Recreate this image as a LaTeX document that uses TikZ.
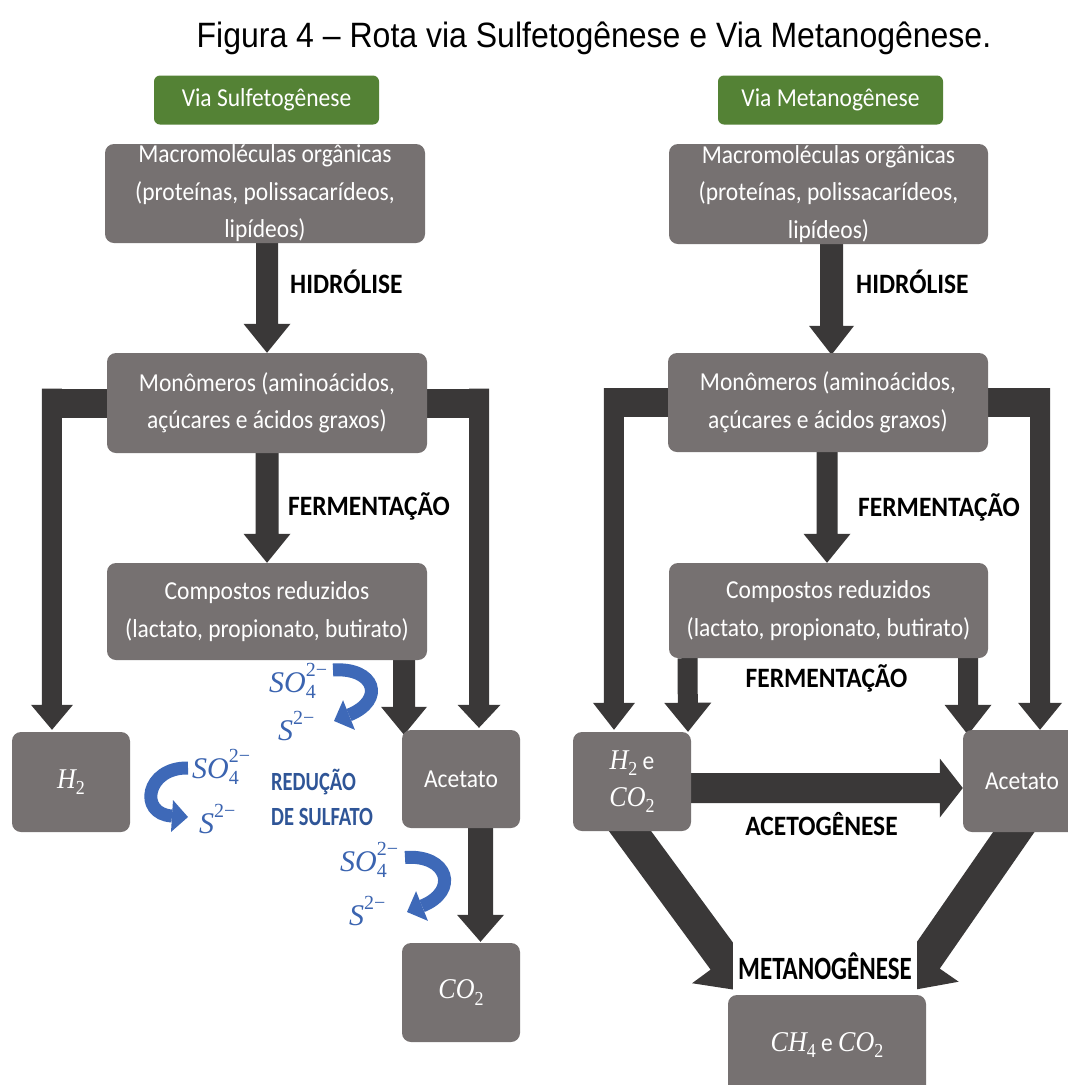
\documentclass[tikz,border=0pt]{standalone}
\usepackage{graphicx}
\usepackage{fontspec}
\setmainfont{Carlito}
\newfontfamily\titlefont{Liberation Sans}
\newfontfamily\chemfont{Liberation Serif}
\usetikzlibrary{calc}

\definecolor{boxgray}{HTML}{767171}
\definecolor{arrowdark}{HTML}{3A3838}
\definecolor{headgreen}{HTML}{548235}
\definecolor{sulfblue}{HTML}{2F5597}
\definecolor{ionblue}{HTML}{3B64B0}
\definecolor{curveblue}{HTML}{3E69B8}

\pgfdeclarelayer{background}
\pgfsetlayers{background,main}

% slightly tall lettering
\newcommand\tallA[1]{\scalebox{1}[1.1]{#1}}
\newcommand\tallB[2]{\scalebox{1}[#1]{#2}}

% chemical formulas: italic letters, upright indices
\newcommand\chemsub[1]{\raisebox{-5.5pt}{\fontsize{18}{18}\selectfont #1}}
\newcommand\mol[2]{{\chemfont\fontsize{26}{37.5}\selectfont\itshape #1}{\chemfont\chemsub{#2}}}
\newcommand\ionsubsup[2]{\rlap{\raisebox{-6.5pt}{\fontsize{20}{20}\selectfont #1}}\raisebox{16pt}{\fontsize{20}{20}\selectfont #2}}
\newcommand\ionsup[1]{\raisebox{16pt}{\fontsize{20}{20}\selectfont #1}}
\newcommand\ionSO{{\chemfont\itshape SO}{\chemfont\ionsubsup{4}{2−}}}
\newcommand\ionS{{\chemfont\itshape S}{\chemfont\ionsup{2−}}}

% block arrow: #1 tail, #2 tip, #3 half shaft width, #4 half head width, #5 head length
\newcommand\blkarrow[5]{%
  \coordinate (ba-base) at ($(#2)!#5!(#1)$);
  \fill[arrowdark] ($(#1)!#3!90:(#2)$) -- ($(ba-base)!#3!90:(#2)$)
    -- ($(ba-base)!#4!90:(#2)$) -- (#2) -- ($(ba-base)!#4!-90:(#2)$)
    -- ($(ba-base)!#3!-90:(#2)$) -- ($(#1)!#3!-90:(#2)$) -- cycle;}

% curved sulfate arrow: #1 start, #2 #3 controls, #4 head base, #5 tip
\newcommand\ionarrow[5]{%
  \draw[curveblue, line width=13pt] (#1) .. controls #2 and #3 .. (#4);
  \fill[curveblue] ($(#4)!16pt!90:(#5)$) -- (#5) -- ($(#4)!16pt!-90:(#5)$) -- cycle;}

\begin{document}
\begin{tikzpicture}[x=1pt,y=-1pt,
  box/.style={fill=boxgray, rounded corners=9pt, text=white, align=center,
    inner sep=0pt, font=\fontsize{23.5}{37.5}\selectfont},
  tag/.style={fill=headgreen, rounded corners=6pt, text=white, inner sep=0pt,
    minimum width=225pt, minimum height=49pt, font=\fontsize{23.5}{28}\selectfont},
  stage/.style={font=\bfseries\fontsize{25.5}{30}\selectfont, inner sep=0pt},
  ion/.style={text=ionblue, inner sep=0pt, anchor=base west,
    font=\fontsize{30}{32}\selectfont},
  redlabel/.style={text=sulfblue, inner sep=0pt, anchor=base west,
    font=\bfseries\fontsize{20.5}{24}\selectfont}]

\useasboundingbox (0,0) rectangle (1068,1085);

% title
\node[font=\titlefont\fontsize{32}{38}\selectfont, inner sep=0pt, anchor=base]
  (title) at (594,47) {\tallA{Figura 4 – Rota via Sulfetogênese e Via Metanogênese.}};

% ---------------- sulfidogenic route ----------------
\node[tag] (tagL) at (266.5,100) {\tallA{Via Sulfetogênese}};
\node[box, minimum width=320pt, minimum height=99pt] (macL) at (265,193.5)
  {\tallA{Macromoléculas orgânicas}\\\tallA{(proteínas, polissacarídeos,}\\\tallA{lipídeos)}};
\node[box, minimum width=320pt, minimum height=100pt] (monL) at (267,403)
  {\tallA{Monômeros (aminoácidos,}\\\tallA{açúcares e ácidos graxos)}};
\node[box, minimum width=320pt, minimum height=97pt] (redL) at (267,611.5)
  {\tallA{Compostos reduzidos}\\\tallA{(lactato, propionato, butirato)}};
\node[box, minimum width=118pt, minimum height=100pt] (h2L) at (71,782) {\tallA{\mol{H}{2}}};
\node[box, minimum width=118pt, minimum height=98pt] (aceL) at (461,779) {\tallA{Acetato}};
\node[box, minimum width=118pt, minimum height=99pt] (co2L) at (461,992.5) {\tallA{\mol{CO}{2}}};

\node[stage, anchor=base west] (hidL) at (290,293) {\tallA{HIDRÓLISE}};
\node[stage, anchor=base west] (ferL) at (288,515) {\tallA{FERMENTAÇÃO}};
\node[redlabel] (redu) at (271,790) {\tallB{1.28}{REDUÇÃO}};
\node[redlabel] (sulf) at (271,825) {\tallB{1.28}{DE SULFATO}};

\node[ion] (so4a) at (269,692) {\ionSO};
\node[ion] (s2a) at (278,740) {\ionS};
\node[ion] (so4b) at (192,778) {\ionSO};
\node[ion] (s2b) at (199,833) {\ionS};
\node[ion] (so4c) at (340,871) {\ionSO};
\node[ion] (s2c) at (349,925) {\ionS};

% ---------------- methanogenic route ----------------
\node[tag] (tagR) at (830.5,100) {\tallA{Via Metanogênese}};
\node[box, minimum width=319pt, minimum height=100pt] (macR) at (828.5,194)
  {\tallA{Macromoléculas orgânicas}\\\tallA{(proteínas, polissacarídeos,}\\\tallA{lipídeos)}};
\node[box, minimum width=320pt, minimum height=99pt] (monR) at (828,402.5)
  {\tallA{Monômeros (aminoácidos,}\\\tallA{açúcares e ácidos graxos)}};
\node[box, minimum width=319pt, minimum height=95pt] (redR) at (828.5,610.5)
  {\tallA{Compostos reduzidos}\\\tallA{(lactato, propionato, butirato)}};
\node[box, minimum width=118pt, minimum height=99pt] (hcR) at (632,781.5)
  {\tallA{\mol{H}{2} e}\\\tallA{\mol{CO}{2}}};
\node[box, minimum width=118pt, minimum height=102pt] (aceR) at (1022,781) {\tallA{Acetato}};
\node[box, minimum width=198pt, minimum height=100pt] (chR) at (827,1045) {\tallA{\mol{CH}{4} e \mol{CO}{2}}};

\node[stage, anchor=base west] (hidR) at (856,293) {\tallA{HIDRÓLISE}};
\node[stage, anchor=base west] (ferR) at (858,516) {\tallA{FERMENTAÇÃO}};
\node[stage, anchor=base] (ferM) at (826.5,687) {\tallA{FERMENTAÇÃO}};
\node[stage, anchor=base] (acet) at (821.5,835) {\tallA{ACETOGÊNESE}};

% ---------------- connectors ----------------
\begin{pgfonlayer}{background}
  \fill[white] (0,0) rectangle (1068,1085);

  % left route
  \coordinate (hyL-a) at ($(macL.south)+(2,0)$);
  \blkarrow{hyL-a}{monL.north}{11pt}{23.5pt}{29pt}
  \blkarrow{monL.south}{redL.north}{11.5pt}{23.5pt}{29pt}
  \coordinate (elL-out) at ($(monL.west)+(-65,0)$);
  \coordinate (elL-top) at ($(monL.west)+(-55,-14.5)$);
  \coordinate (elL-tip) at ($(h2L.north)+(-19,-2)$);
  \draw[arrowdark, line width=29pt] (monL.center) -- (elL-out);
  \blkarrow{elL-top}{elL-tip}{10pt}{21pt}{25pt}
  \coordinate (erL-out) at ($(monL.east)+(62,0)$);
  \coordinate (erL-top) at ($(monL.east)+(52,-14.5)$);
  \coordinate (erL-tip) at ($(aceL.north)+(18,-2)$);
  \draw[arrowdark, line width=29pt] (monL.center) -- (erL-out);
  \blkarrow{erL-top}{erL-tip}{10pt}{21.5pt}{23pt}
  \coordinate (raL-a) at ($(redL.south)+(137,0)$);
  \coordinate (raL-b) at ($(aceL.north)+(-57,5)$);
  \blkarrow{raL-a}{raL-b}{11pt}{23pt}{28pt}
  \coordinate (acL-a) at ($(aceL.south)+(19.5,0)$);
  \coordinate (acL-b) at ($(co2L.north)+(19.5,-1)$);
  \blkarrow{acL-a}{acL-b}{12.5pt}{23.5pt}{27pt}

  % right route
  \coordinate (hyR-a) at ($(macR.south)+(3,0)$);
  \coordinate (hyR-b) at ($(monR.north)+(3.5,2)$);
  \blkarrow{hyR-a}{hyR-b}{11.5pt}{22.5pt}{29pt}
  \coordinate (feR-a) at ($(monR.south)+(-1,0)$);
  \coordinate (feR-b) at ($(redR.north)+(-1.5,0)$);
  \blkarrow{feR-a}{feR-b}{10.5pt}{23.5pt}{29pt}
  \coordinate (elR-out) at ($(monR.west)+(-64,0)$);
  \coordinate (elR-top) at ($(monR.west)+(-54,-14.5)$);
  \coordinate (elR-tip) at ($(hcR.north)+(-18,-2)$);
  \draw[arrowdark, line width=29pt] (monR.center) -- (elR-out);
  \blkarrow{elR-top}{elR-tip}{10pt}{21pt}{27pt}
  \coordinate (erR-out) at ($(monR.east)+(62,0)$);
  \coordinate (erR-top) at ($(monR.east)+(52,-14.5)$);
  \coordinate (erR-tip) at ($(aceR.north)+(18,0)$);
  \draw[arrowdark, line width=29pt] (monR.center) -- (erR-out);
  \blkarrow{erR-top}{erR-tip}{10pt}{22pt}{27pt}
  \coordinate (rhR-a) at ($(redR.south)+(-141,0)$);
  \coordinate (rhR-b) at ($(hcR.north)+(56,0)$);
  \blkarrow{rhR-a}{rhR-b}{10pt}{23.5pt}{29pt}
  \coordinate (raR-a) at ($(redR.south)+(139.5,0)$);
  \coordinate (raR-b) at ($(aceR.north)+(-54,5)$);
  \blkarrow{raR-a}{raR-b}{10pt}{23.5pt}{30pt}
  \coordinate (agR-a) at ($(hcR.east)+(-5,6.5)$);
  \coordinate (agR-b) at ($(aceR.west)+(0,7)$);
  \blkarrow{agR-a}{agR-b}{15pt}{29.5pt}{23pt}
  \coordinate (dgL-a) at ($(hcR.south)+(-10,-11)$);
  \coordinate (dgL-b) at ($(chR.north)+(-79,-3)$);
  \blkarrow{dgL-a}{dgL-b}{17pt}{40pt}{40pt}
  \coordinate (dgR-a) at ($(aceR.south)+(0,-12)$);
  \coordinate (dgR-b) at ($(chR.north)+(76,-3)$);
  \blkarrow{dgR-a}{dgR-b}{17pt}{40pt}{40pt}
\end{pgfonlayer}

\node[fill=white, inner sep=0pt, text height=50pt, text depth=14pt, minimum width=184pt,
  font=\bfseries\fontsize{25}{30}\selectfont] (metl) at (825,961) {\tallB{1.3}{METANOGÊNESE}};

% sulfate reduction arrows
\coordinate (ia-s) at (333,670); \coordinate (ia-e) at (349,715); \coordinate (ia-t) at (334,721);
\ionarrow{ia-s}{(375,667)}{(386,700)}{ia-e}{ia-t}
\coordinate (ib-s) at (188,768); \coordinate (ib-e) at (172,816); \coordinate (ib-t) at (188,817);
\ionarrow{ib-s}{(146,767)}{(138,814)}{ib-e}{ib-t}
\coordinate (ic-s) at (405,857.5); \coordinate (ic-e) at (422,906); \coordinate (ic-t) at (407,912);
\ionarrow{ic-s}{(448,854)}{(459.5,891)}{ic-e}{ic-t}
\end{tikzpicture}
\end{document}
